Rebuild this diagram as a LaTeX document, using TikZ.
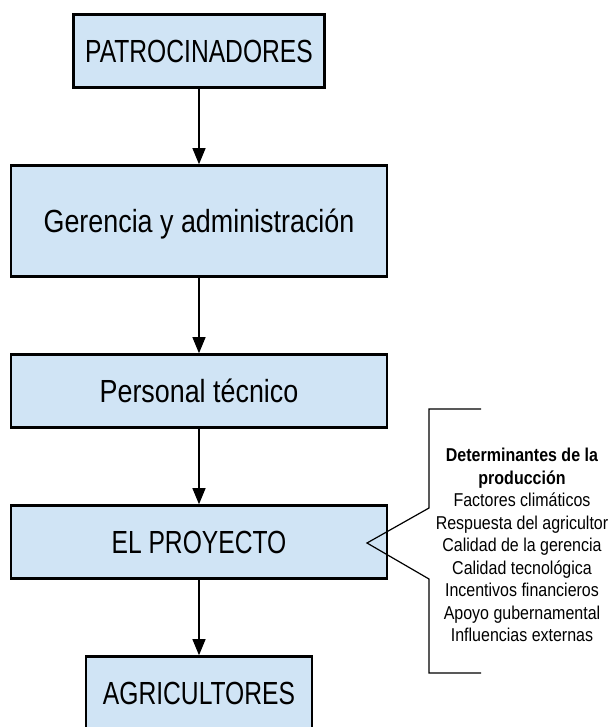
\documentclass[tikz,border=0pt]{standalone}
\usepackage{fontspec}
\setmainfont{Liberation Sans}[FakeStretch=0.82]
\newfontfamily\capsfont{Liberation Sans}[FakeStretch=0.77]
\newfontfamily\mixfont{Liberation Sans}[FakeStretch=0.84]
\newfontfamily\sidefont{Liberation Sans}[FakeStretch=0.86]
\usetikzlibrary{arrows.meta}
\definecolor{boxfill}{RGB}{208,228,245}
\begin{document}
\begin{tikzpicture}[x=1pt,y=-1pt,
  flowbox/.style={draw=black, line width=2.6pt, fill=boxfill, align=center,
    inner sep=0pt, text height=23pt, text depth=0pt},
  bigcaps/.style={font=\capsfont\fontsize{32}{38}\selectfont},
  bigmixed/.style={font=\mixfont\fontsize{32}{38}\selectfont},
  flowarrow/.style={draw=black, line width=1.1pt, -{Triangle[width=13pt,length=16pt]}},
  bracketline/.style={draw=black, line width=1.2pt},
  sidetext/.style={align=center, inner sep=0pt, font=\sidefont\fontsize{18.6}{22.5}\selectfont}]
\useasboundingbox (0,0) rectangle (610,727);
\node[flowbox, bigcaps, minimum width=251pt, minimum height=73pt] (pat) at (199,51) {PATROCINADORES};
\node[flowbox, bigmixed, minimum width=376pt, minimum height=111pt] (ger) at (199,221) {Gerencia y administración};
\node[flowbox, bigmixed, minimum width=376pt, minimum height=73pt] (per) at (199,391) {Personal técnico};
\node[flowbox, bigcaps, minimum width=376pt, minimum height=73pt] (pro) at (199,542) {EL PROYECTO};
\node[flowbox, bigcaps, minimum width=226pt, minimum height=73pt] (agr) at (199,693) {AGRICULTORES};
\draw[flowarrow] (pat.south) -- (ger.north);
\draw[flowarrow] (ger.south) -- (per.north);
\draw[flowarrow] (per.south) -- (pro.north);
\draw[flowarrow] (pro.south) -- (agr.north);
\coordinate (bt) at (481,409);
\coordinate (btl) at (429,409);
\coordinate (bu) at (429,508);
\coordinate (tip) at (367,543);
\coordinate (bl) at (429,579);
\coordinate (bbl) at (429,673);
\coordinate (bb) at (481,673);
\draw[bracketline] (bt) -- (btl) -- (bu) -- (tip) -- (bl) -- (bbl) -- (bb);
\node[sidetext] (side) at (522,545) {\textbf{Determinantes de la}\\\textbf{producción}\\Factores climáticos\\Respuesta del agricultor\\Calidad de la gerencia\\Calidad tecnológica\\Incentivos financieros\\Apoyo gubernamental\\Influencias externas};
\end{tikzpicture}
\end{document}
